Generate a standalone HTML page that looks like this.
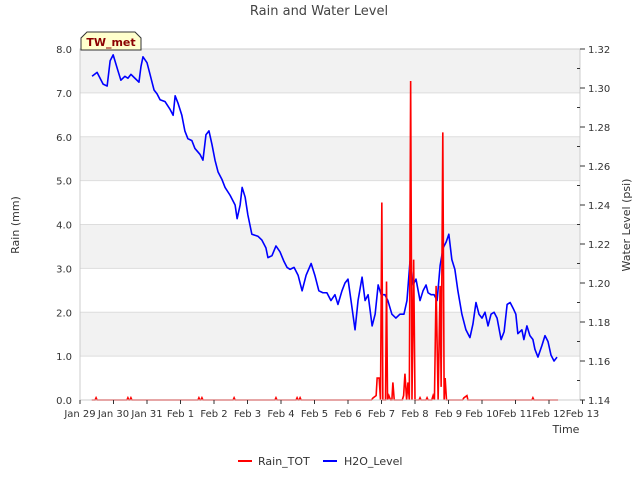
<!DOCTYPE html>
<html><head><meta charset="utf-8"><style>
body{margin:0;background:#fff;font-family:"Liberation Sans","DejaVu Sans",sans-serif}
</style></head><body>
<svg id="chart" width="640" height="480" xmlns="http://www.w3.org/2000/svg" font-family="DejaVu Sans, Liberation Sans, sans-serif">
<text x="319" y="15" text-anchor="middle" font-size="13" fill="#444">Rain and Water Level</text>
<g id="grid"></g>
<g id="series"></g>
<rect x="80" y="49" width="500" height="351" fill="none" stroke="#ccc" stroke-width="1"/>
<g id="axes"></g>
<text transform="translate(19,225) rotate(-90)" text-anchor="middle" font-size="11" fill="#333">Rain (mm)</text>
<text transform="translate(630,225) rotate(-90)" text-anchor="middle" font-size="11" fill="#333">Water Level (psi)</text>
<text x="566" y="433" text-anchor="middle" font-size="11" fill="#333">Time</text>
<g>
<path d="M81,50 L81,38 L87,32 L135,32 L141,38 L141,50 Z" fill="#ffffcc" stroke="#333" stroke-width="1"/>
<text x="111" y="46" text-anchor="middle" font-size="11" font-weight="bold" fill="#8b0000">TW_met</text>
</g>
<g>
<line x1="238" y1="461" x2="252" y2="461" stroke="#f00" stroke-width="2"/>
<text x="258" y="465" font-size="11" fill="#333">Rain_TOT</text>
<line x1="323" y1="461" x2="337" y2="461" stroke="#00f" stroke-width="2"/>
<text x="344" y="465" font-size="11" fill="#333">H2O_Level</text>
</g>
</svg>
<script>
const xLabels=["Jan 29","Jan 30","Jan 31","Feb 1","Feb 2","Feb 3","Feb 4","Feb 5","Feb 6","Feb 7","Feb 8","Feb 9","Feb 10","Feb 11","Feb 12","Feb 13"];
const leftTicks=[0,1,2,3,4,5,6,7,8];
const rightTicks=[1.14,1.16,1.18,1.20,1.22,1.24,1.26,1.28,1.30,1.32];
const waterDays=[.36,.51,.69,.81,.90,.99,1.13,1.22,1.34,1.43,1.52,1.64,1.76,1.82,1.88,2.00,2.09,2.15,2.21,2.30,2.39,2.54,2.69,2.78,2.84,2.93,3.04,3.13,3.22,3.34,3.43,3.58,3.67,3.76,3.85,3.94,4.03,4.12,4.24,4.33,4.48,4.63,4.69,4.78,4.84,4.93,5.01,5.13,5.31,5.43,5.55,5.61,5.73,5.85,5.97,6.09,6.18,6.27,6.39,6.51,6.63,6.75,6.90,7.01,7.13,7.25,7.37,7.49,7.61,7.70,7.82,7.91,8.00,8.09,8.21,8.30,8.42,8.51,8.60,8.72,8.81,8.90,8.99,9.10,9.19,9.31,9.43,9.55,9.67,9.76,9.85,9.94,10.03,10.15,10.24,10.33,10.39,10.48,10.57,10.66,10.75,10.84,10.93,11.01,11.10,11.19,11.28,11.40,11.52,11.64,11.73,11.82,11.91,12.00,12.09,12.18,12.27,12.36,12.45,12.57,12.66,12.75,12.84,12.93,13.01,13.07,13.19,13.25,13.34,13.43,13.52,13.58,13.67,13.79,13.88,13.97,14.06,14.15,14.24];
const waterLevel=[1.306,1.308,1.302,1.301,1.314,1.317,1.309,1.304,1.306,1.305,1.307,1.305,1.303,1.311,1.316,1.313,1.307,1.303,1.299,1.297,1.294,1.293,1.289,1.286,1.296,1.292,1.286,1.278,1.274,1.273,1.269,1.266,1.263,1.276,1.278,1.271,1.263,1.257,1.253,1.249,1.245,1.240,1.233,1.240,1.249,1.244,1.235,1.225,1.224,1.222,1.218,1.213,1.214,1.219,1.216,1.211,1.208,1.207,1.208,1.204,1.196,1.204,1.210,1.204,1.196,1.195,1.195,1.191,1.194,1.189,1.196,1.200,1.202,1.191,1.176,1.191,1.203,1.191,1.194,1.178,1.184,1.199,1.194,1.194,1.191,1.184,1.182,1.184,1.184,1.191,1.211,1.199,1.202,1.191,1.196,1.199,1.195,1.194,1.194,1.191,1.209,1.218,1.221,1.225,1.212,1.207,1.196,1.184,1.176,1.172,1.179,1.190,1.184,1.182,1.185,1.178,1.184,1.185,1.182,1.171,1.175,1.189,1.190,1.187,1.184,1.174,1.176,1.171,1.178,1.173,1.171,1.166,1.162,1.168,1.173,1.170,1.163,1.160,1.162];
const rainDays=[.35,.45,.48,.51,1.40,1.43,1.46,1.49,1.52,1.55,3.52,3.55,3.58,3.61,3.64,3.67,4.57,4.60,4.63,5.82,5.85,5.88,6.45,6.48,6.51,6.54,6.57,6.60,8.70,8.75,8.84,8.87,8.93,8.97,9.01,9.04,9.12,9.15,9.18,9.22,9.27,9.31,9.34,9.38,9.62,9.66,9.70,9.75,9.79,9.83,9.87,9.91,9.96,10.0,10.12,10.15,10.18,10.33,10.36,10.39,10.50,10.54,10.58,10.63,10.69,10.75,10.78,10.83,10.87,10.90,10.94,10.98,11.42,11.46,11.55,11.58,13.49,13.52,13.55,14.27];
const rainVals=[0,0,.05,0,0,.05,0,0,.05,0,0,.05,0,0,.05,0,0,.05,0,0,.05,0,0,.05,0,0,.05,0,0,.05,.1,.5,.5,0,4.5,0,0,2.7,0,.1,0,0,.4,0,0,.1,.6,0,.4,0,7.27,0,3.2,0,0,.05,0,0,.05,0,0,.1,0,2.6,0,2.6,.3,6.1,0,.5,0,0,0,.05,.1,0,0,.05,0,0];
const NS="http://www.w3.org/2000/svg";
const L=80,R=580,T=49,B=400,DAY=33.5;
const xs=d=>L+d*DAY;
const yL=v=>B-(v/8)*(B-T);
const yR=v=>B-((v-1.14)/0.18)*(B-T);
function mk(tag,attrs,parent){const e=document.createElementNS(NS,tag);for(const k in attrs)e.setAttribute(k,attrs[k]);parent.appendChild(e);return e;}
const grid=document.getElementById('grid'),axes=document.getElementById('axes'),series=document.getElementById('series');
for(let i=0;i<leftTicks.length-1;i++){
  if(i%2===1){const b=mk('rect',{x:L,y:yL(leftTicks[i+1]),width:R-L,height:yL(leftTicks[i])-yL(leftTicks[i+1]),fill:'#f2f2f2'},grid);
  
  }
}
leftTicks.forEach(v=>{
  const g=mk('line',{x1:L,x2:R,y1:yL(v),y2:yL(v),stroke:'#ddd','stroke-width':1},grid);
  
  
  const t=mk('text',{x:L-8,y:yL(v)+4,'text-anchor':'end','font-size':10,fill:'#333'},axes);
  t.textContent=v.toFixed(1);
  
  
});
rightTicks.forEach(v=>{
  const tk=mk('line',{x1:R,x2:R+5,y1:yR(v),y2:yR(v),stroke:'#333'},axes);
  
  
  const t=mk('text',{x:R+8,y:yR(v)+4,'font-size':10,fill:'#333'},axes);
  t.textContent=v.toFixed(2);
  
  
});
for(let i=0;i<rightTicks.length-1;i++){
  const m=(rightTicks[i]+rightTicks[i+1])/2;
  const tk=mk('line',{x1:R-3,x2:R,y1:yR(m),y2:yR(m),stroke:'#333'},axes);
  
  
}
xLabels.forEach((s,i)=>{
  const tk=mk('line',{x1:xs(i),x2:xs(i),y1:B,y2:B+4,stroke:'#333'},axes);
  
  
  const t=mk('text',{x:xs(i),y:B+17,'text-anchor':'middle','font-size':10,fill:'#333'},axes);
  t.textContent=s;
  
  
});
const wp=mk('polyline',{points:waterDays.map((d,i)=>xs(d)+','+yR(waterLevel[i])).join(' '),fill:'none',stroke:'#00f','stroke-width':1.6,'stroke-linejoin':'round'},series);


const rp=mk('polyline',{points:rainDays.map((d,i)=>xs(d)+','+yL(rainVals[i])).join(' '),fill:'none',stroke:'#f00','stroke-width':1.6},series);


</script>
</body></html>
